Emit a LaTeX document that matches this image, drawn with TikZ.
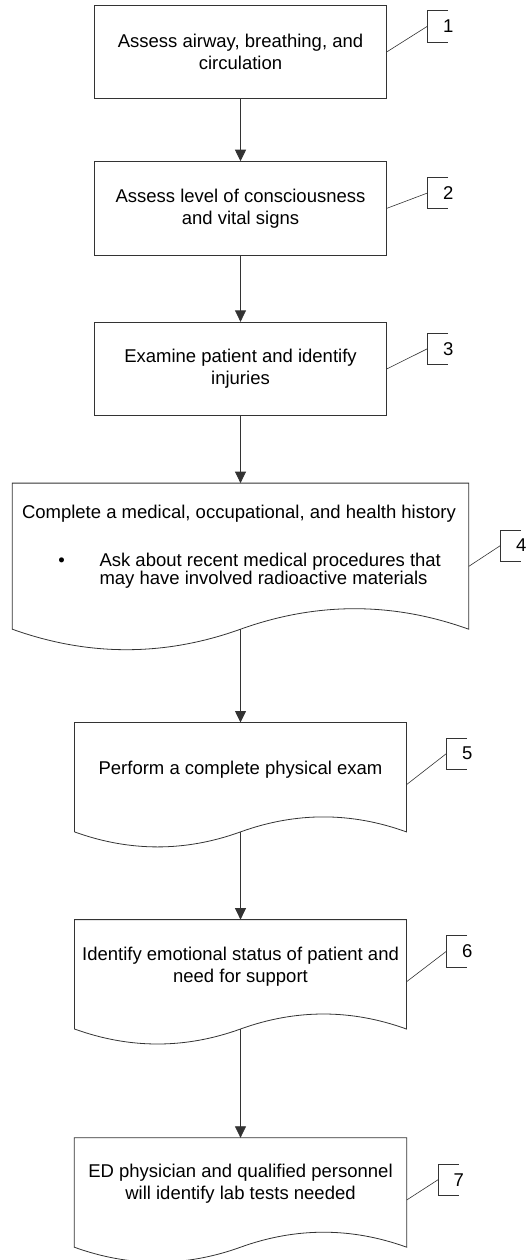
\documentclass[tikz,border=0pt]{standalone}
\usepackage{fontspec}
\setmainfont{Liberation Sans}
\usetikzlibrary{positioning,calc,arrows.meta}

\tikzset{
  stepbox/.style={draw=black!80, line width=0.8pt, minimum width=291.5pt, minimum height=93.5pt, align=center, inner sep=0pt},
  docbox/.style={minimum height=124pt, inner sep=0pt},
  txt/.style={align=center, inner sep=0pt},
  flow/.style={draw=black!80, line width=0.8pt, -{Triangle[length=11.5pt,width=11pt]}},
  lead/.style={draw=black!80, line width=0.6pt},
  tag/.style={minimum width=41pt, minimum height=31pt, inner sep=0pt}
}

% document outline: straight sides, wavy bottom (#2 = wave height)
\newcommand{\docshape}[2]{%
  \draw[draw=black!80, line width=0.8pt] ([yshift=#2pt]#1.south west) -- (#1.north west) -- (#1.north east) -- ([yshift=#2pt]#1.south east)
    .. controls ($(#1.south east)!1/6!(#1.south west)+(0,{7/3*#2})$) and ($(#1.south east)!2/6!(#1.south west)+(0,{7/3*#2})$) .. ([yshift=#2pt]#1.south)
    .. controls ($(#1.south east)!4/6!(#1.south west)+(0,{-#2/3})$) and ($(#1.south east)!5/6!(#1.south west)+(0,{-#2/3})$) .. ([yshift=#2pt]#1.south west) -- cycle;}

\begin{document}
\begin{tikzpicture}[x=1pt, y=1pt, font=\fontsize{18.5}{21.8}\selectfont]
    \useasboundingbox (0,0) rectangle (525,-1260);

    % Steps 1-3
    \node[stepbox] (n1) at (240.5,-52) {Assess airway, breathing, and\\circulation};
    \node[stepbox] (n2) at (240.5,-208.4) {Assess level of consciousness\\and vital signs};
    \node[stepbox] (n3) at (240.5,-369) {Examine patient and identify\\injuries};

    % Steps 4-7 (documents)
    \node[docbox, minimum width=456pt, minimum height=166.2pt] (n4) at (240.5,-566.4) {};
    \node[docbox, minimum width=331.5pt] (n5) at (240.5,-784.7) {};
    \node[docbox, minimum width=331.5pt] (n6) at (240.5,-981.8) {};
    \node[docbox, minimum width=332pt] (n7) at (240.5,-1200) {};
    \docshape{n4}{20.5}
    \docshape{n5}{15}
    \docshape{n6}{15}
    \docshape{n7}{15}

    % Texts of the documents
    \node[txt, anchor=base] (t4) at (239,-518) {Complete a medical, occupational, and health history};
    \node[txt, anchor=base] (bul4) at (61.7,-566) {\textbullet};
    \node[txt, anchor=north west, align=left, font={\fontsize{18.5}{18.5}\selectfont}] (b4) at (99.3,-552.5) {Ask about recent medical procedures that\\may have involved radioactive materials};
    \node[txt] (t5) at ([yshift=15pt]n5.center) {Perform a complete physical exam};
    \node[txt] (t6) at ([yshift=15pt]n6.center) {Identify emotional status of patient and\\need for support};
    \node[txt] (t7) at ([yshift=16pt]n7.center) {ED physician and qualified personnel\\will identify lab tests needed};

    % Arrows
    \draw[flow] (n1.south) -- (n2.north);
    \draw[flow] (n2.south) -- (n3.north);
    \draw[flow] (n3.south) -- (n4.north);
    \draw[flow] ([yshift=20.5pt]n4.south) -- (n5.north);
    \draw[flow] ([yshift=15pt]n5.south) -- (n6.north);
    \draw[flow] ([yshift=15pt]n6.south) -- (n7.north);

    % Step numbers
    \node[tag] (c1) at (448.2,-26.2) {1};
    \node[tag] (c2) at (448.2,-193) {2};
    \node[tag] (c3) at (448.2,-348.7) {3};
    \node[tag] (c4) at (521.2,-545.5) {4};
    \node[tag] (c5) at (467.2,-753.5) {5};
    \node[tag] (c6) at (467.2,-951.2) {6};
    \node[tag] (c7) at (458.8,-1179.7) {7};
    \foreach \i in {1,...,7} {
        \draw[lead] (c\i.north) -- (c\i.north west) -- (c\i.south west) -- (c\i.south);
        \draw[lead] (n\i.east) -- (c\i.west);
    }
\end{tikzpicture}
\end{document}
